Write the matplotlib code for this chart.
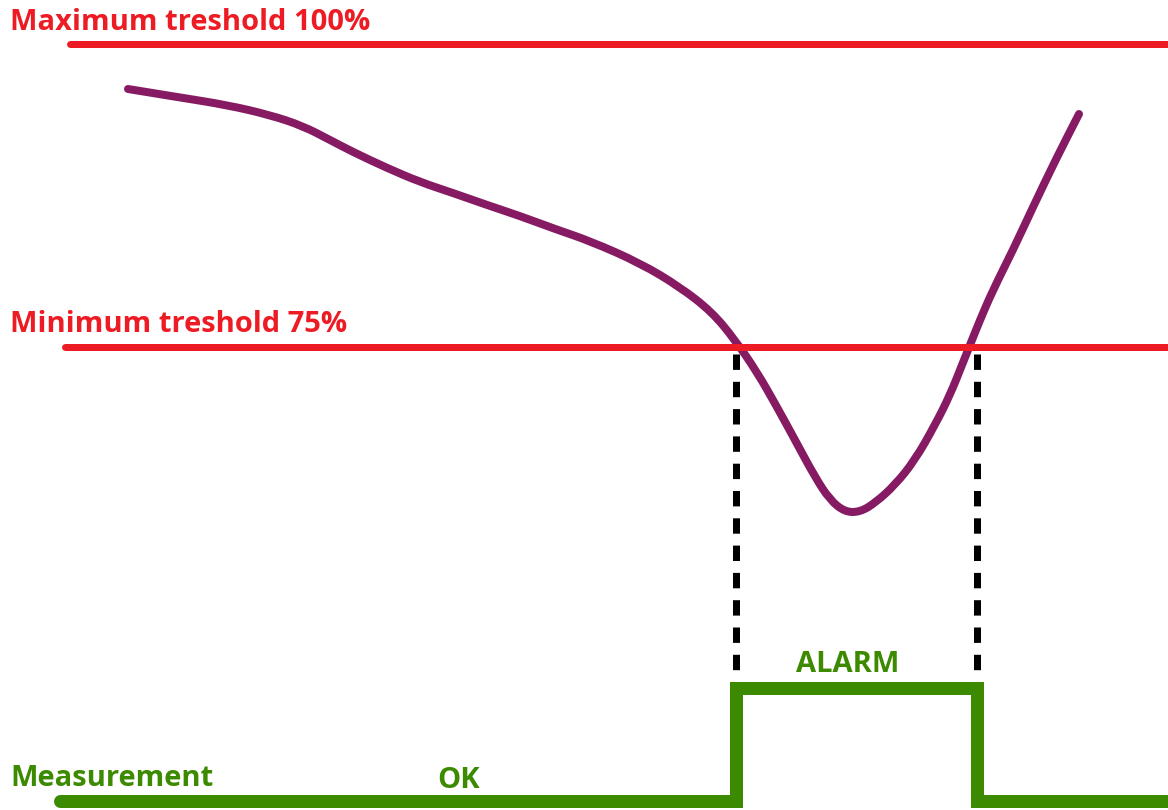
import matplotlib
matplotlib.use("Agg")
import matplotlib.pyplot as plt
from matplotlib.path import Path
from matplotlib.patches import PathPatch

# picture coordinates (pixels, y down)
curve_x = [128, 177, 227, 270, 303, 330, 353, 387, 420, 453, 487, 520, 555,
           590, 640, 680, 712, 735, 757, 777, 795, 815, 830, 845, 860,
           875, 895, 915, 935, 950, 962, 970, 980, 993, 1013, 1033, 1057, 1079]
curve_y = [89, 97, 105, 115, 126, 140, 152, 168, 182, 193, 205, 216, 229,
           241, 263, 287, 312, 340, 372, 407, 440, 477, 500, 512, 512,
           503, 485, 460, 425, 395, 365, 345, 320, 290, 250, 207, 157, 114]

max_level = 44
min_level = 347
alarm_x = [736, 977]
state_x = [60, 736, 736, 977, 977, 1168]
state_y = [801, 801, 688, 688, 801, 801]

labels = {
    "max": "Maximum treshold 100%",
    "min": "Minimum treshold 75%",
    "meas": "Measurement",
    "ok": "OK",
    "alarm": "ALARM",
}

RED = "#ED1C24"
GREEN = "#3C8A00"
PURPLE = "#861B63"


def smooth_path(xs, ys):
    # quadratic bezier through the midpoints, points act as controls
    pts = list(zip(xs, ys))
    verts = [pts[0]]
    codes = [Path.MOVETO]
    for i in range(1, len(pts) - 1):
        mid = ((pts[i][0] + pts[i + 1][0]) / 2, (pts[i][1] + pts[i + 1][1]) / 2)
        verts += [pts[i], mid]
        codes += [Path.CURVE3, Path.CURVE3]
    verts.append(pts[-1])
    codes.append(Path.LINETO)
    return Path(verts, codes)


fig = plt.figure(figsize=(11.68, 8.10), dpi=100)
ax = fig.add_axes([0, 0, 1, 1])
ax.set_xlim(0, 1168)
ax.set_ylim(810, 0)
ax.axis("off")

px = 0.72  # points per pixel at 100 dpi
font = dict(family=["Open Sans", "DejaVu Sans"], fontweight="bold", fontsize=21)

ax.plot([70, 1168], [max_level, max_level], color=RED, lw=7 * px,
        solid_capstyle="round")
ax.plot([65, 1168], [min_level, min_level], color=RED, lw=7 * px,
        solid_capstyle="round")

for x in alarm_x:
    ax.plot([x, x], [354, 680], color="black", lw=7 * px,
            dashes=(2.2, 1.7), dash_capstyle="butt")

ax.add_patch(PathPatch(smooth_path(curve_x, curve_y), facecolor="none",
                       edgecolor=PURPLE, lw=8 * px, capstyle="round",
                       joinstyle="round"))

ax.plot(state_x, state_y, color=GREEN, lw=13 * px, solid_capstyle="round",
        solid_joinstyle="miter")

ax.text(10, 22, labels["max"], color=RED, va="center", ha="left", **font)
ax.text(10, 325, labels["min"], color=RED, va="center", ha="left", **font)
ax.text(10, 778, labels["meas"], color=GREEN, va="center", ha="left", **font)
ax.text(459, 780, labels["ok"], color=GREEN, va="center", ha="center", **font)
ax.text(848, 665, labels["alarm"], color=GREEN, va="center", ha="center", **font)

fig.savefig("out.png", dpi=100)
